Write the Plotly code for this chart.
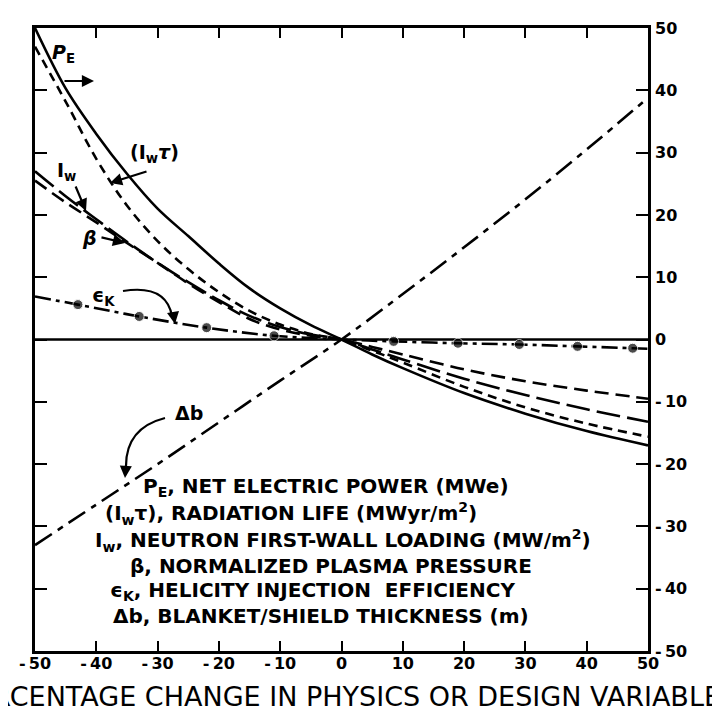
import plotly.graph_objects as go

# ---------------- data (percent changes) ----------------
x_pct = [-50, -45, -40, -35, -30, -25, -20, -15, -10, -5, 0, 5, 10, 20, 30, 40, 50]
pe    = [50, 40.3, 33, 26.6, 21, 16.6, 12.2, 8.2, 5, 2.3, 0, -2.4, -4.6, -8.6, -11.9, -14.7, -17]
iwt   = [47, 38.2, 29, 21.5, 15.8, 11.3, 7.6, 4.6, 2.4, 0.9, 0, -1.8, -3.7, -7.6, -10.9, -13.5, -15.6]
iw    = [27, 23, 19.3, 15.7, 12.3, 9.2, 6.3, 3.8, 2, 0.8, 0, -1.6, -3.2, -6.3, -8.9, -11.2, -13.2]
beta  = [25.5, 22, 18.8, 15.5, 12.3, 9, 6, 3.3, 1.6, 0.6, 0, -1.2, -2.4, -4.8, -6.7, -8.2, -9.5]
eps_x = [-50, -43, -33, -22, -11, 0, 8.5, 19, 29, 38.5, 47.5, 50]
eps   = [6.9, 5.6, 3.7, 1.9, 0.6, 0, -0.3, -0.6, -0.8, -1.1, -1.4, -1.5]
eps_dot_x = [-43, -33, -22, -11, 8.5, 19, 29, 38.5, 47.5]
db_x  = [-50, -40, -30, -20, -10, 0, 10, 20, 30, 40, 50]
db    = [-33, -26.5, -20, -13.3, -6.6, 0, 7.3, 14.8, 22.5, 30.5, 38.8]
zero_x = [-50, 50]
zero_y = [0, 0]

x_ticks = [-50, -40, -30, -20, -10, 0, 10, 20, 30, 40, 50]
x_ticklabels = ["-\u200950", "-\u200940", "-\u200930", "-\u200920", "-\u200910", "0",
                "10", "20", "30", "40", "50"]
y_ticks = [50, 40, 30, 20, 10, 0, -10, -20, -30, -40, -50]
y_ticklabels = ["50", "40", "30", "20", "10", "0", "-\u200910", "-\u200920",
                "-\u200930", "-\u200940", "-\u200950"]

legend_lines = [
    "P<sub>E</sub>, NET ELECTRIC POWER (MWe)",
    "(I<sub>w</sub>\u03c4), RADIATION LIFE (MWyr/m<sup>2</sup>)",
    "I<sub>w</sub>, NEUTRON FIRST-WALL LOADING (MW/m<sup>2</sup>)",
    "\u03b2, NORMALIZED PLASMA PRESSURE",
    "\u03f5<sub>K</sub>, HELICITY INJECTION  EFFICIENCY",
    "\u0394b, BLANKET/SHIELD THICKNESS (m)",
]
x_title = "PERCENTAGE CHANGE IN PHYSICS OR DESIGN VARIABLE"

# ---------------- geometry helpers ----------------
W, H = 720, 709
L, R, T, B = 27, 80, 20, 66
PW, PH = W - L - R, H - T - B


def px_to_data(px, py):
    return (px - L) / PW * 100 - 50, 50 - (py - T) / PH * 100


def px_to_paper(px, py):
    return (px - L) / PW, 1 - (py - T) / PH


LW = 2.6
fig = go.Figure()
fig.add_trace(go.Scatter(x=zero_x, y=zero_y, mode="lines",
                         line=dict(color="black", width=LW)))
fig.add_trace(go.Scatter(x=x_pct, y=pe, mode="lines", line_shape="spline",
                         line=dict(color="black", width=LW)))
fig.add_trace(go.Scatter(x=x_pct, y=iwt, mode="lines", line_shape="spline",
                         line=dict(color="black", width=LW, dash="9px,6px")))
fig.add_trace(go.Scatter(x=x_pct, y=iw, mode="lines", line_shape="spline",
                         line=dict(color="black", width=LW, dash="24px,7px")))
fig.add_trace(go.Scatter(x=x_pct, y=beta, mode="lines", line_shape="spline",
                         line=dict(color="black", width=LW, dash="14px,7px")))
fig.add_trace(go.Scatter(x=eps_x, y=eps, mode="lines+markers", line_shape="spline",
                         line=dict(color="black", width=LW, dash="16px,5px,4px,5px"),
                         marker=dict(color="black",
                                     size=[10 if v in eps_dot_x else 0 for v in eps_x])))
fig.add_trace(go.Scatter(x=db_x, y=db, mode="lines", line_shape="spline",
                         line=dict(color="black", width=LW, dash="20px,7px,6px,7px")))

annotations = []
lab_font = dict(family="DejaVu Sans", size=19, color="black", weight="bold")


def label(text, px, py, anchor="left"):
    x, y = px_to_data(px, py)
    annotations.append(dict(x=x, y=y, xref="x", yref="y", text=text, showarrow=False,
                            xanchor=anchor, yanchor="middle", font=lab_font))


def arrow(tip_px, tip_py, tail_px, tail_py):
    x, y = px_to_data(tip_px, tip_py)
    annotations.append(dict(x=x, y=y, xref="x", yref="y", text="", showarrow=True,
                            ax=tail_px - tip_px, ay=tail_py - tip_py,
                            arrowhead=2, arrowsize=1.1, arrowwidth=2.2, arrowcolor="black"))


label("<i>P</i><sub>E</sub>", 42, 45)
arrow(86, 73, 55, 73)
label("(I<sub>w</sub><i>\u03c4</i>)", 120, 145)
arrow(102, 175, 140, 163)
label("I<sub>w</sub>", 47, 163)
arrow(78, 203, 67, 177)
label("<i>\u03b2</i>", 72, 230)
arrow(117, 235, 92, 229)
label("\u03f5<sub>K</sub>", 82, 288)
label("\u0394b", 165, 405)

shapes = []


def curve(p0, c, p1):
    a = px_to_data(*p0)
    b = px_to_data(*c)
    d = px_to_data(*p1)
    shapes.append(dict(type="path", xref="x", yref="y",
                       path=f"M {a[0]},{a[1]} Q {b[0]},{b[1]} {d[0]},{d[1]}",
                       line=dict(color="black", width=2.2)))


curve((115, 283), (158, 276), (164, 308))
arrow(167, 316, 165, 304)
curve((157, 410), (118, 420), (118, 458))
arrow(117, 470, 118, 456)

# legend text block
leg_pos = [(133, 479), (95, 505), (85, 532), (120, 558), (100, 583), (103, 608)]
for txt, (px, py) in zip(legend_lines, leg_pos):
    xp, yp = px_to_paper(px, py)
    annotations.append(dict(x=xp, y=yp, xref="paper", yref="paper", text=txt,
                            showarrow=False, xanchor="left", yanchor="middle",
                            font=dict(family="DejaVu Sans", size=20, color="black",
                                      weight="bold")))

# x-axis title (clipped at the left edge in the reference scan)
xp, yp = px_to_paper(715, 688)
annotations.append(dict(x=xp, y=yp, xref="paper", yref="paper", text=x_title,
                        showarrow=False, xanchor="right", yanchor="middle",
                        font=dict(family="DejaVu Sans", size=27, color="black")))

tick_font = dict(family="DejaVu Sans", size=16, color="black", weight="bold")
fig.update_xaxes(range=[-50, 50], tickvals=x_ticks, ticktext=x_ticklabels,
                 ticks="inside", ticklen=10, tickwidth=2.2, tickcolor="black",
                 showline=True, linewidth=2.8, linecolor="black", mirror="allticks",
                 showgrid=False, zeroline=False, tickfont=tick_font,
                 ticklabelstandoff=-4)
fig.update_yaxes(range=[-50, 50], tickvals=y_ticks, ticktext=y_ticklabels, side="right",
                 ticks="inside", ticklen=12, tickwidth=2.2, tickcolor="black",
                 showline=True, linewidth=2.8, linecolor="black", mirror="allticks",
                 showgrid=False, zeroline=False, tickfont=tick_font,
                 ticklabelstandoff=1)
fig.update_layout(width=W, height=H, margin=dict(l=L, r=R, t=T, b=B),
                  plot_bgcolor="white", paper_bgcolor="white", showlegend=False,
                  annotations=annotations, shapes=shapes)
fig.write_html("out.html")
